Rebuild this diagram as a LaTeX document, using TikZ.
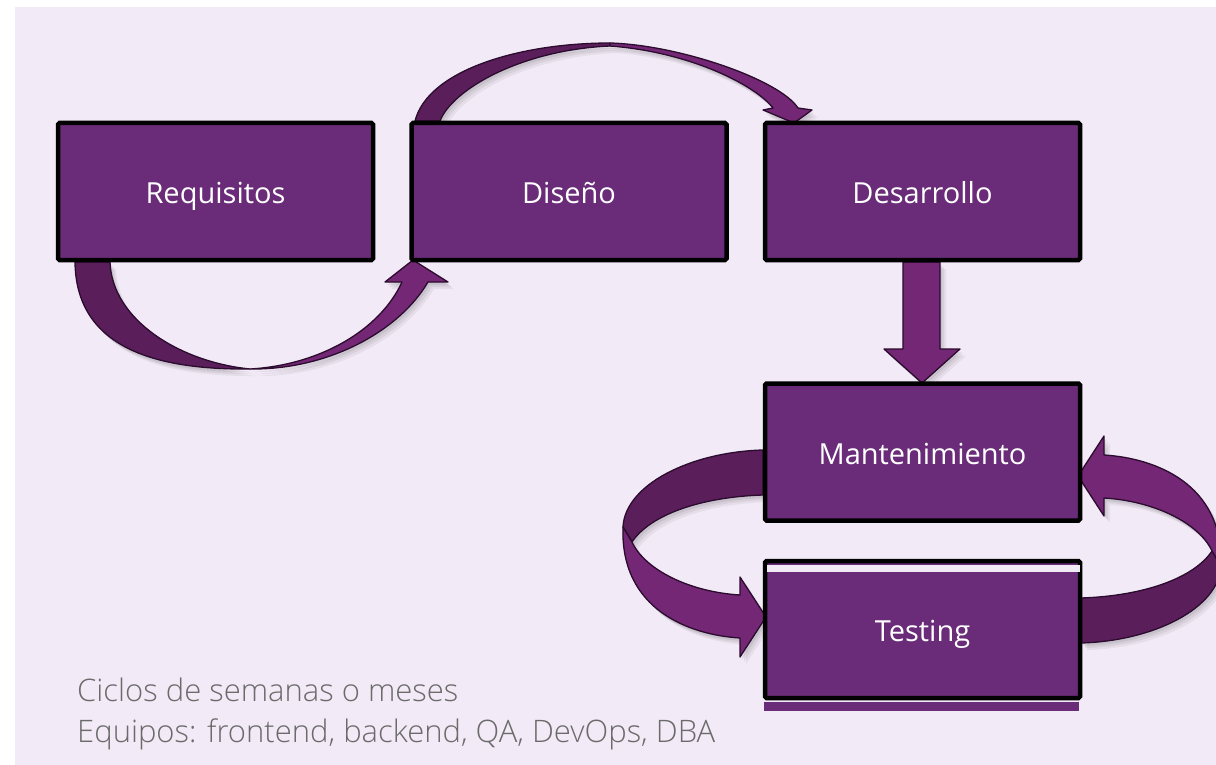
\documentclass[tikz,border=0pt]{standalone}
\usepackage{fontspec}
\setmainfont{Open Sans}
\IfFontExistsTF{Open Sans Light}{\newfontfamily\lightfont{Open Sans Light}}{\newfontfamily\lightfont{Open Sans}}
\definecolor{bgc}{HTML}{F2EAF6}
\definecolor{boxc}{HTML}{6A2C79}
\definecolor{darkband}{HTML}{5A1E5B}
\definecolor{lightband}{HTML}{742775}
\definecolor{outc}{HTML}{2B0B2E}
\definecolor{notec}{HTML}{6B6B6B}
\tikzset{
  stagebox/.style={draw=black, line width=4.5pt, fill=boxc, minimum width=315pt,
    minimum height=137pt, text=white, font=\fontsize{29}{34}\selectfont,
    text height=24pt, text depth=0pt,
    inner sep=0pt, rounded corners=1.5pt},
  softshadow/.style={
    preaction={fill=black, opacity=.07, transform canvas={xshift=2pt, yshift=-3pt}},
    preaction={fill=black, opacity=.06, transform canvas={xshift=4pt, yshift=-5pt}},
    preaction={fill=black, opacity=.05, transform canvas={xshift=6pt, yshift=-7pt}}},
  bandline/.style={softshadow, draw=outc, line width=1.3pt, line join=round},
  darkpart/.style={bandline, fill=darkband},
  lightpart/.style={bandline, fill=lightband},
  notetext/.style={text=notec, font=\lightfont\fontsize{31}{36}\selectfont, inner sep=0pt, anchor=base west}
}
\newcommand{\myloopribbon}{%
  \path[darkpart] (763,450) .. controls (690,452) and (625,485) .. (623,527)
    -- (632,542) .. controls (650,515) and (700,497) .. (763,495) -- cycle;
  \path[lightpart] (623,527) .. controls (620,610) and (690,635) .. (740,638)
    -- (740,657) -- (766,617) -- (740,577) -- (740,595)
    .. controls (690,592) and (645,570) .. (632,542) -- cycle;
}
\begin{document}
\begin{tikzpicture}[x=1pt,y=-1pt]
\useasboundingbox (0,0) rectangle (1216,765);
\fill[bgc] (15,7) rectangle (1216,765);

\begin{scope}
\clip (15,7) rectangle (1216,765);
% Requisitos -> Diseno (lower curved arrow)
\path[darkpart] (75,262) .. controls (76,345) and (150,370) .. (250,369)
  .. controls (180,362) and (112,320) .. (110,262) -- cycle;
\path[lightpart] (250,369) .. controls (330,370) and (400,330) .. (428,282)
  -- (448,282) -- (413,260) -- (385,282) -- (402,282)
  .. controls (380,330) and (320,365) .. (250,369) -- cycle;
% Diseno -> Desarrollo (upper curved arrow)
\path[darkpart] (415,121) .. controls (428,70) and (520,43) .. (610,43)
  -- (610,46) .. controls (520,50) and (452,90) .. (440,121) -- cycle;
\path[lightpart] (610,43) .. controls (680,45) and (780,80) .. (798,108)
  -- (812,110) -- (794,123) -- (763,110) -- (773,108)
  .. controls (755,85) and (690,52) .. (610,46) -- cycle;
% Desarrollo -> Mantenimiento (straight arrow)
\path[lightpart] (903,262) -- (903,349) -- (884,349) -- (922,383) -- (960,349)
  -- (940,349) -- (940,262) -- cycle;
% Mantenimiento -> Testing (left loop)
\myloopribbon
% Testing -> Mantenimiento (right loop)
\begin{scope}[shift={(1844,1093)}, xscale=-1, yscale=-1]
\myloopribbon
\end{scope}
\end{scope}

% stage boxes
\fill[boxc] (764,702) rectangle (1079,711);
\node[stagebox] (req) at (215.5,191.5) {Requisitos};
\node[stagebox] (dis) at (569,191.5) {Diseño};
\node[stagebox] (des) at (922.5,191.5) {Desarrollo};
\node[stagebox] (man) at (922.5,452) {Mantenimiento};
\node[stagebox] (tes) at (922.5,629.5) {Testing};
\fill[bgc] (766.5,564.5) rectangle (1079.5,571.5);

% notes
\node[notetext] (n1) at (77,701) {Ciclos de semanas o meses};
\node[notetext] (n2) at (77,742) {Equipos: frontend, backend, QA, DevOps, DBA};
\end{tikzpicture}
\end{document}
